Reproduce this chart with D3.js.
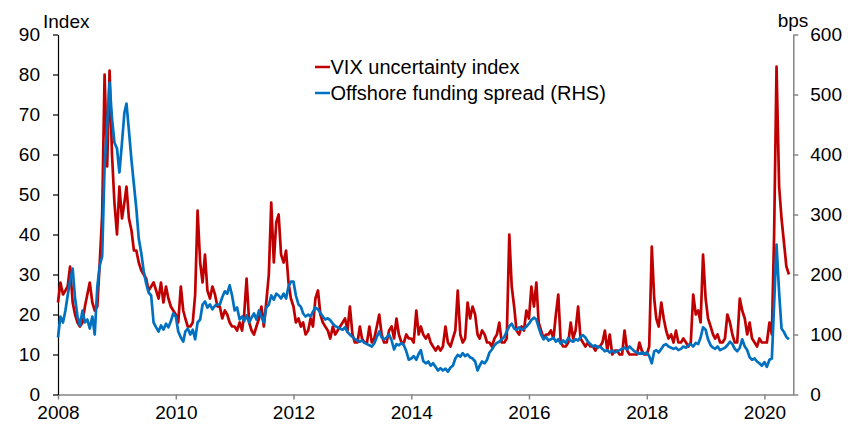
<!DOCTYPE html>
<html>
<head>
<meta charset="utf-8">
<script src="https://cdn.jsdelivr.net/npm/d3@7"></script>
<style>
	body { margin: 0; background: #fff; }
	svg { display: block; font-family: "Liberation Sans", Arial, sans-serif; }
</style>
</head>
<body>
<svg id="chart"></svg>
<script>
// semi-monthly readings (1st and 16th of each month), Jan 2008 - Jun 2020
const vix = [
	// 2008
	23, 28, 25, 26, 27, 32, 23, 20, 18, 17, 18, 22, 25, 28, 23, 21, 22, 33, 45, 80, 57, 81, 60, 48,
	// 2009
	40, 52, 44, 48, 52, 44, 41, 36, 36, 33, 31, 30, 29, 26, 27, 28, 26, 24, 28, 23, 27, 24, 22, 21,
	// 2010
	20, 18, 27, 21, 19, 17, 17, 18, 25, 46, 33, 28, 35, 26, 24, 27, 25, 22, 22, 19, 21, 20, 18, 17,
	// 2011
	17, 16, 18, 16, 20, 29, 18, 16, 15, 17, 19, 22, 17, 23, 30, 48, 33, 43, 45, 35, 33, 36, 28, 24,
	// 2012
	22, 18, 19, 17, 18, 15, 16, 19, 17, 24, 26, 20, 18, 17, 16, 14, 17, 15, 16, 17, 18, 19, 16, 22,
	// 2013
	15, 13, 13, 17, 14, 13, 13, 17, 13, 14, 17, 20, 15, 13, 13, 16, 17, 14, 19, 15, 13, 13, 15, 14,
	// 2014
	14, 13, 21, 15, 17, 15, 14, 15, 13, 12, 11, 12, 11, 12, 17, 13, 12, 14, 16, 26, 15, 13, 14, 23,
	// 2015
	19, 22, 20, 15, 14, 16, 15, 13, 13, 12, 14, 15, 18, 13, 13, 14, 40, 27, 22, 16, 15, 17, 16, 21,
	// 2016
	19, 27, 22, 28, 18, 16, 14, 15, 15, 16, 14, 20, 25, 13, 12, 12, 13, 18, 14, 16, 22, 14, 13, 12,
	// 2017
	13, 12, 12, 11, 12, 12, 13, 16, 11, 15, 10, 11, 11, 10, 10, 16, 11, 10, 10, 10, 10, 13, 11, 10,
	// 2018
	10, 12, 37, 24, 19, 17, 23, 19, 16, 14, 15, 13, 16, 13, 13, 14, 13, 12, 13, 25, 20, 21, 18, 35,
	// 2019
	24, 19, 17, 15, 14, 15, 13, 13, 14, 20, 18, 15, 13, 13, 24, 21, 19, 15, 18, 14, 13, 12, 14, 13,
	// 2020
	13, 13, 18, 15, 40, 82, 52, 44, 38, 32, 30
];

const spread = [
	// 2008
	95, 130, 120, 140, 165, 190, 210, 160, 130, 115, 140, 120, 125, 110, 130, 100, 180, 215, 230, 380, 450, 520, 460, 420,
	// 2009
	410, 370, 420, 470, 485, 440, 390, 350, 310, 260, 235, 205, 185, 170, 165, 120, 112, 105, 115, 108, 118, 112, 122, 135,
	// 2010
	130, 105, 95, 88, 105, 110, 100, 108, 92, 120, 125, 150, 155, 145, 150, 142, 148, 150, 150, 162, 172, 168, 182, 165,
	// 2011
	140, 145, 125, 130, 122, 132, 120, 128, 135, 125, 140, 130, 120, 145, 150, 165, 158, 168, 165, 160, 168, 160, 180, 188,
	// 2012
	188, 165, 150, 146, 135, 130, 133, 130, 138, 145, 142, 136, 130, 125, 127, 124, 118, 114, 112, 110, 108, 112, 104, 100,
	// 2013
	96, 92, 90, 88, 90, 86, 84, 82, 80, 85, 96, 105, 95, 92, 95, 100, 90, 75, 84, 82, 86, 82, 72, 58,
	// 2014
	60, 64, 58, 68, 74, 56, 52, 55, 48, 52, 46, 40, 44, 40, 43, 38, 45, 48, 60, 66, 63, 69, 64, 67,
	// 2015
	62, 60, 55, 40, 48, 55, 52, 58, 70, 75, 82, 86, 88, 92, 96, 105, 114, 118, 110, 108, 112, 108, 110, 113,
	// 2016
	118, 124, 128, 125, 112, 100, 92, 96, 90, 92, 95, 88, 92, 85, 90, 86, 94, 90, 88, 92, 90, 96, 99, 95,
	// 2017
	88, 84, 80, 82, 78, 80, 76, 72, 74, 70, 73, 70, 72, 74, 76, 78, 75, 80, 76, 72, 70, 68, 70, 68,
	// 2018
	70, 64, 52, 72, 74, 70, 76, 82, 84, 80, 78, 76, 78, 74, 76, 80, 78, 82, 84, 80, 86, 84, 95, 112,
	// 2019
	108, 92, 82, 78, 76, 80, 74, 76, 78, 82, 88, 84, 76, 72, 78, 92, 80, 74, 62, 58, 60, 55, 52, 48,
	// 2020
	54, 46, 58, 60, 150, 250, 170, 110, 104, 96, 92
];

const xTickYears = [2008, 2010, 2012, 2014, 2016, 2018, 2020];
const leftTicks = [0, 10, 20, 30, 40, 50, 60, 70, 80, 90];
const rightTicks = [0, 100, 200, 300, 400, 500, 600];
const legendLabels = ["VIX uncertainty index", "Offshore funding spread (RHS)"];
const colors = ["#c00000", "#0070c0"];

// 1st / 16th of each month
const dates = vix.map((_, i) => new Date(2008 + Math.floor(i / 24), Math.floor((i % 24) / 2), i % 2 ? 16 : 1));

const width = 848;
const height = 427;
const margin = {top: 34.5, right: 54.7, bottom: 32.5, left: 58};

const svg = d3.select("#chart")
	.attr("width", width)
	.attr("height", height);

const x = d3.scaleTime()
	.domain([new Date(2008, 0, 1), new Date(2020, 5, 28)])
	.range([margin.left, width - margin.right]);
const yL = d3.scaleLinear()
	.domain([0, 90])
	.range([height - margin.bottom, margin.top]);
const yR = d3.scaleLinear()
	.domain([0, 600])
	.range([height - margin.bottom, margin.top]);

const fontSize = 19;

const xAxis = g => g
	.attr("transform", `translate(0,${height - margin.bottom})`)
	.call(d3.axisBottom(x)
		.tickValues(xTickYears.map(y => new Date(y, 0, 1)))
		.tickFormat(d3.timeFormat("%Y"))
		.tickSize(5).tickSizeOuter(0).tickPadding(6))
	.call(g => g.selectAll("path, line").attr("stroke", "#868686").attr("stroke-width", 1.5));

const yAxisL = g => g
	.attr("transform", `translate(${margin.left},0)`)
	.call(d3.axisLeft(yL).tickValues(leftTicks).tickSize(5).tickSizeOuter(0).tickPadding(13))
	.call(g => g.selectAll("path, line").attr("stroke", "#000").attr("stroke-width", 1.2));

const yAxisR = g => g
	.attr("transform", `translate(${width - margin.right},0)`)
	.call(d3.axisRight(yR).tickValues(rightTicks).tickSize(5).tickSizeOuter(0).tickPadding(12))
	.call(g => g.selectAll("path, line").attr("stroke", "#868686").attr("stroke-width", 1.5));

svg.append("g").call(xAxis);
svg.append("g").call(yAxisR);
svg.append("g").call(yAxisL);

svg.selectAll(".tick text")
	.attr("font-size", fontSize)
	.attr("font-family", "Liberation Sans, Arial, sans-serif")
	.attr("fill", "#000");

svg.append("text")
	.attr("x", 43).attr("y", 28)
	.attr("font-size", fontSize)
	.text("Index");

svg.append("text")
	.attr("x", 793).attr("y", 27)
	.attr("text-anchor", "middle")
	.attr("font-size", fontSize)
	.text("bps");

const lineL = d3.line()
	.x((d, i) => x(dates[i]))
	.y(d => yL(d));
const lineR = d3.line()
	.x((d, i) => x(dates[i]))
	.y(d => yR(d));

svg.append("path")
	.datum(vix)
	.attr("fill", "none")
	.attr("stroke", colors[0])
	.attr("stroke-width", 2.7)
	.attr("stroke-linejoin", "round")
	.attr("d", lineL);

svg.append("path")
	.datum(spread)
	.attr("fill", "none")
	.attr("stroke", colors[1])
	.attr("stroke-width", 2.7)
	.attr("stroke-linejoin", "round")
	.attr("d", lineR);

// legend
const legend = svg.append("g")
	.attr("transform", "translate(315,67)");

legend.selectAll("g")
	.data(legendLabels)
	.enter()
	.append("g")
	.attr("transform", (d, i) => `translate(0,${i * 26})`)
	.each(function(d, i) {
		const g = d3.select(this);
		g.append("line")
			.attr("x1", 0).attr("x2", 15)
			.attr("stroke", colors[i])
			.attr("stroke-width", 2.5);
		g.append("text")
			.attr("x", 15.5)
			.attr("dy", "0.35em")
			.attr("font-size", 20)
			.text(d);
	});
</script>
</body>
</html>
